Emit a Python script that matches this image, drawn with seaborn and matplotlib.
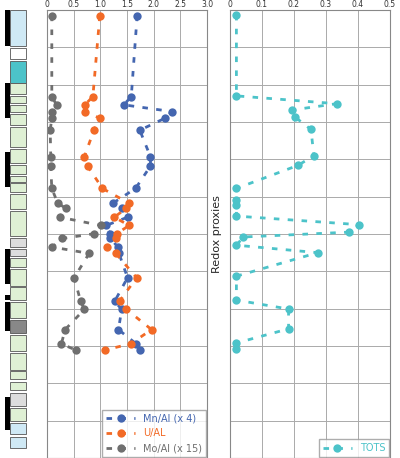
import numpy as np
import pandas as pd
import matplotlib
matplotlib.use("Agg")
import matplotlib.pyplot as plt
import seaborn as sb
from matplotlib.patches import Rectangle

sb.set_theme(style="white")
plt.rcParams['font.family'] = ['DejaVu Sans']

# sample depths (grid units, top = 0)
depth = [0.15, 2.32, 2.54, 2.72, 2.90, 3.22, 3.93, 4.18, 4.78, 5.17, 5.31, 5.55,
         5.77, 5.99, 6.12, 6.35, 6.52, 7.17, 7.80, 8.02, 8.56, 8.94, 9.11]
mn_al = [1.69, 1.58, 1.44, 2.34, 2.21, 1.74, 1.94, 1.94, 1.66, 1.24, 1.41, 1.51,
         1.11, 1.18, 1.19, 1.33, 1.35, 1.51, 1.27, 1.40, 1.34, 1.67, 1.74]
u_al = [0.99, 0.86, 0.71, 0.72, 0.99, 0.88, 0.70, 0.76, 1.04, 1.53, 1.49, 1.26,
        1.54, 1.31, 1.30, 1.12, 1.29, 1.68, 1.36, 1.49, 1.96, 1.57, 1.08]
mo_al = [0.09, 0.09, 0.18, 0.09, 0.09, 0.06, 0.07, 0.07, 0.09, 0.20, 0.35, 0.24,
         1.01, 0.89, 0.29, 0.10, 0.79, 0.51, 0.63, 0.70, 0.34, 0.27, 0.54]

tots_depth = [0.13, 2.30, 2.51, 2.68, 2.86, 3.20, 3.90, 4.16, 4.78, 5.10, 5.21, 5.52,
              5.75, 5.95, 6.08, 6.30, 6.50, 7.13, 7.77, 8.01, 8.54, 8.92, 9.07]
tots = [0.02, 0.02, 0.333, 0.193, 0.202, 0.253, 0.262, 0.213, 0.02, 0.02, 0.02, 0.02,
        0.403, 0.373, 0.042, 0.02, 0.274, 0.02, 0.02, 0.183, 0.183, 0.02, 0.02]

# lithology log: top, bottom, colour
litho_top = [0.0, 1.05, 1.4, 2.0, 2.35, 2.6, 2.85, 3.2, 3.8, 4.25, 4.55, 4.75, 5.05, 5.5, 6.25,
             6.55, 6.8, 7.1, 7.6, 8.0, 8.5, 8.9, 9.4, 9.9, 10.2, 10.5, 10.9, 11.3, 11.7]
litho_bot = [1.0, 1.35, 2.0, 2.3, 2.55, 2.8, 3.15, 3.75, 4.2, 4.5, 4.7, 5.0, 5.45, 6.2, 6.5,
             6.75, 7.05, 7.55, 7.95, 8.45, 8.85, 9.35, 9.85, 10.1, 10.4, 10.85, 11.25, 11.6, 12.0]
litho_col = ['#cfe9f5', '#ffffff', '#4cc3c9', '#dff0d4', '#dff0d4', '#dff0d4', '#dff0d4',
             '#dff0d4', '#dff0d4', '#dff0d4', '#dff0d4', '#dff0d4', '#dff0d4', '#dff0d4', '#dddddd',
             '#dddddd', '#dff0d4', '#dff0d4', '#dff0d4', '#dff0d4', '#888888', '#dff0d4', '#dff0d4',
             '#dff0d4', '#dff0d4', '#dddddd', '#dff0d4', '#cfe9f5', '#cfe9f5']
black_top = [0.0, 2.0, 3.9, 6.55, 7.8, 8.0, 10.6]
black_bot = [1.0, 2.95, 4.85, 7.5, 7.95, 8.8, 11.5]

blue, orange, grey, teal = '#4466b0', '#f26a26', '#6f6f6f', '#4cc3c9'

fig = plt.figure(figsize=(4, 4.58), dpi=100)

# lithology column
axl = fig.add_axes([0.0, 0.0, 0.1, 458 / 458])
axl.set_xlim(0, 40)
axl.set_ylim(12.27, -0.27)
for t, b, c in zip(litho_top, litho_bot, litho_col):
    axl.add_patch(Rectangle((10, t), 16, b - t, facecolor=c, edgecolor='#555555', lw=0.6))
for t, b in zip(black_top, black_bot):
    axl.add_patch(Rectangle((5, t), 5, b - t, facecolor='black', lw=0))
axl.axis('off')

def style_axis(ax, xmax, ticks, labels):
    ax.set_xlim(0, xmax)
    ax.set_ylim(12, 0)
    ax.set_xticks(ticks)
    ax.set_xticklabels(labels, fontsize=5.5, color='#333333')
    ax.set_yticks(range(13))
    ax.set_yticklabels([])
    ax.xaxis.tick_top()
    ax.tick_params(axis='x', length=0, pad=1)
    ax.tick_params(axis='y', length=0)
    ax.grid(True, color='#aaaaaa', lw=0.7)
    for s in ax.spines.values():
        s.set_color('#888888')
        s.set_linewidth(0.8)
    ax.set_xlabel('')
    ax.set_ylabel('')

df = pd.DataFrame({'depth': depth, 'Mn/Al (x 4)': mn_al, 'U/AL': u_al, 'Mo/Al (x 15)': mo_al})

ax1 = fig.add_axes([47 / 400, 0, 160 / 400, 448 / 458])
for name, col in [('Mn/Al (x 4)', blue), ('U/AL', orange), ('Mo/Al (x 15)', grey)]:
    sb.lineplot(data=df, x=name, y='depth', sort=False, orient='y', ax=ax1, color=col,
                lw=2, dashes=False, marker='o', markersize=6, markeredgewidth=0, label=name)
for l in ax1.lines:
    l.set_linestyle((0, (2, 3)))
style_axis(ax1, 3, np.arange(0, 3.01, 0.5), ['0', '0.5', '1.0', '1.5', '2.0', '2.5', '3.0'])
leg = ax1.legend(loc='lower right', fontsize=7, frameon=True, fancybox=False,
                 edgecolor='#999999', handlelength=3, borderaxespad=0.1)
for t, c in zip(leg.get_texts(), [blue, orange, grey]):
    t.set_color(c)

ax2 = fig.add_axes([230 / 400, 0, 160 / 400, 448 / 458])
df2 = pd.DataFrame({'depth': tots_depth, 'TOTS': tots})
sb.lineplot(data=df2, x='TOTS', y='depth', sort=False, orient='y', ax=ax2, color=teal,
            lw=2, marker='o', markersize=6, markeredgewidth=0, label='TOTS')
for l in ax2.lines:
    l.set_linestyle((0, (2, 3)))
style_axis(ax2, 0.5, np.arange(0, 0.51, 0.1), ['0', '0.1', '0.2', '0.3', '0.4', '0.5'])
ax2.set_ylabel('Redox proxies', fontsize=8, labelpad=2)
leg2 = ax2.legend(loc='lower right', fontsize=7, frameon=True, fancybox=False,
                  edgecolor='#999999', handlelength=3, borderaxespad=0.1)
leg2.get_texts()[0].set_color(teal)

fig.savefig('out.png', dpi=100)
